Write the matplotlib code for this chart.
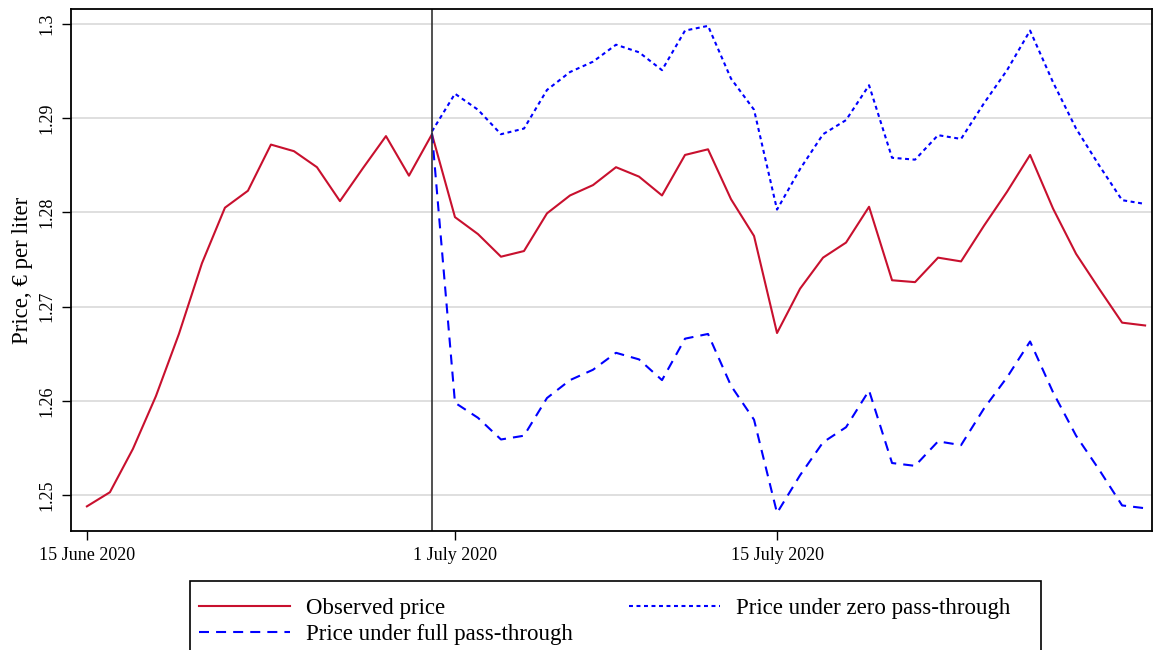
import datetime as dt
import matplotlib
matplotlib.use("Agg")
import matplotlib.pyplot as plt
import matplotlib.dates as mdates
from matplotlib.patches import Rectangle

plt.rcParams['font.family'] = ['Liberation Serif', 'DejaVu Serif']

start = dt.date(2020, 6, 15)
dates = [start + dt.timedelta(days=i) for i in range(47)]

observed = [1.2488, 1.2503, 1.2549, 1.2605, 1.2671, 1.2746, 1.2805, 1.2823,
            1.2872, 1.2865, 1.2848, 1.2812, 1.2847, 1.2881, 1.2839, 1.2883,
            1.2795, 1.2777, 1.2753, 1.2759, 1.2799, 1.2818, 1.2829, 1.2848,
            1.2838, 1.2818, 1.2861, 1.2867, 1.2814, 1.2775, 1.2672,
            1.2719, 1.2752, 1.2768, 1.2806, 1.2728, 1.2726, 1.2752, 1.2748,
            1.2786, 1.2822, 1.2861, 1.2804, 1.2756, 1.2719, 1.2683, 1.2680]

# counterfactuals start on 30 June
zero_pt = [1.2886, 1.2926, 1.2909, 1.2883, 1.2889, 1.2930, 1.2949, 1.2960,
           1.2978, 1.2970, 1.2951, 1.2993, 1.2998, 1.2942, 1.2909, 1.2803,
           1.2846, 1.2883, 1.2898, 1.2935, 1.2858, 1.2856, 1.2882, 1.2878,
           1.2916, 1.2951, 1.2993, 1.2938, 1.2889, 1.2850, 1.2813, 1.2809]
full_pt = [1.2884, 1.2598, 1.2582, 1.2559, 1.2563, 1.2603, 1.2622, 1.2633,
           1.2651, 1.2644, 1.2622, 1.2666, 1.2671, 1.2616, 1.2580, 1.2481,
           1.2521, 1.2556, 1.2572, 1.2611, 1.2534, 1.2531, 1.2557, 1.2553,
           1.2592, 1.2625, 1.2663, 1.2609, 1.2563, 1.2527, 1.2489, 1.2486]
cf_dates = dates[15:]

yticks = [1.25, 1.26, 1.27, 1.28, 1.29, 1.3]
ytick_labels = ['1.25', '1.26', '1.27', '1.28', '1.29', '1.3']
xticks = [dt.date(2020, 6, 15), dt.date(2020, 7, 1), dt.date(2020, 7, 15)]
xtick_labels = ['15 June 2020', '1 July 2020', '15 July 2020']
policy_date = dt.date(2020, 6, 30)

fig = plt.figure(figsize=(11.55, 6.5), dpi=100)
ax = fig.add_axes([0.0617, 0.183, 0.9357, 0.8027])

red = '#c8102e'
l1, = ax.plot(dates, observed, color=red, lw=1.5, label='Observed price')
l2, = ax.plot(cf_dates, full_pt, color='#0000ff', lw=1.5, dashes=(4.8, 3.4),
              label='Price under full pass-through')
l3, = ax.plot(cf_dates, zero_pt, color='#0000ff', lw=1.5, dashes=(1.9, 1.7),
              label='Price under zero pass-through')
ax.axvline(policy_date, color='#333333', lw=1.2)

ax.set_ylim(1.24618, 1.30156)
ax.set_xlim(mdates.date2num(start) - 0.68, mdates.date2num(start) + 46.3)
ax.set_yticks(yticks)
ax.set_yticklabels(ytick_labels, rotation=90, va='center', fontsize=13)
ax.set_xticks(xticks)
ax.set_xticklabels(xtick_labels, fontsize=13)
ax.grid(axis='y', color='#dcdcdc', lw=1.3)
ax.set_axisbelow(True)
ax.tick_params(direction='out', length=6.5, width=1.0, pad=5)
for s in ax.spines.values():
    s.set_linewidth(1.3)
ax.set_ylabel('Price, € per liter', fontsize=16.5, labelpad=4)

# legend frame runs off the bottom of the figure
fig.patches.append(Rectangle((190 / 1155, -0.05), (1041 - 190) / 1155, 0.05 + 69 / 650,
                             transform=fig.transFigure, fill=False, ec='black', lw=1.2))
fig.legend(handles=[l1, l2, l3], ncol=2, loc='upper left', frameon=False,
           bbox_to_anchor=(199 / 1155, 1 - 598 / 650), fontsize=16.5,
           handlelength=3.95, handletextpad=0.7, columnspacing=2.48,
           labelspacing=0.2, borderpad=0.0, borderaxespad=0.0)

fig.savefig('out.png', dpi=100)
